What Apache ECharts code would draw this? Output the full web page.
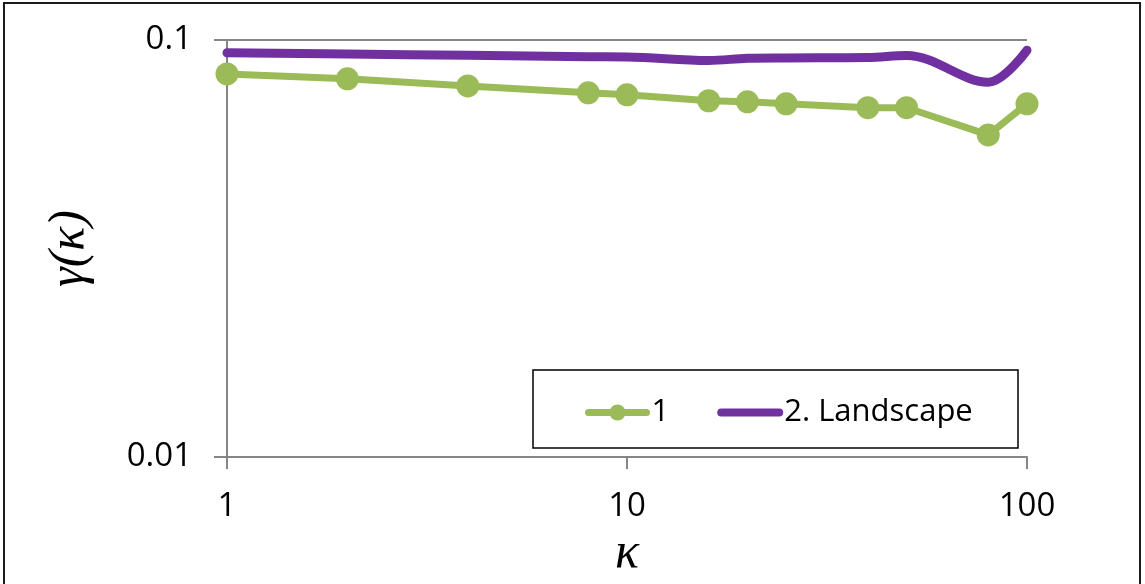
<!DOCTYPE html>
<html>
<head>
<meta charset="utf-8">
<script src="https://cdn.jsdelivr.net/npm/echarts@6/dist/echarts.min.js"></script>
<style>
html,body{margin:0;padding:0;background:#fff;}
#c{width:1145px;height:584px;}
</style>
</head>
<body>
<div id="c"></div>
<script>
// Data
const kappa = [1, 2, 4, 8, 10, 16, 20, 25, 40, 50, 80, 100];
const series1 = [0.0829, 0.0807, 0.0776, 0.0747, 0.0739, 0.0715, 0.0711, 0.0703, 0.0688, 0.0688, 0.0592, 0.0703];
const seriesLandscape = [0.0932, 0.0925, 0.0919, 0.0912, 0.0911, 0.0893, 0.0904, 0.0906, 0.0908, 0.0918, 0.0792, 0.0945];
const seriesNames = ['1', '2. Landscape'];
const xTickLabels = {1: '1', 10: '10', 100: '100'};
const yTickLabels = {0.01: '0.01', 0.1: '0.1'};

const GREEN = '#9BBB59';
const PURPLE = '#7030A0';
const AXIS = '#868686';
const FONT = 'Open Sans';

const chart = echarts.init(document.getElementById('c'), null, {renderer: 'canvas'});

function pairs(xs, ys) { return xs.map((x, i) => [x, ys[i]]); }

chart.setOption({
  animation: false,
  backgroundColor: '#fff',
  grid: {left: 227, right: 118, top: 40, bottom: 126, containLabel: false},
  xAxis: {
    type: 'log', logBase: 10, min: 1, max: 100,
    name: 'κ', nameLocation: 'middle', nameGap: 72,
    nameTextStyle: {fontFamily: 'Liberation Serif', fontStyle: 'italic', fontSize: 50, color: '#000'},
    axisLine: {show: true, lineStyle: {color: AXIS, width: 2}},
    axisTick: {show: true, inside: false, length: 12, lineStyle: {color: AXIS, width: 2}},
    minorTick: {show: false},
    splitLine: {show: false},
    axisLabel: {
      margin: 33, fontFamily: FONT, fontSize: 33, color: '#000',
      formatter: v => xTickLabels[Math.round(v)] !== undefined ? xTickLabels[Math.round(v)] : ''
    }
  },
  yAxis: {
    type: 'log', logBase: 10, min: 0.01, max: 0.1,
    name: 'γ(κ)', nameLocation: 'middle', nameGap: 132, nameRotate: 90,
    nameTextStyle: {fontFamily: 'Liberation Serif', fontStyle: 'italic', fontSize: 50, color: '#000'},
    axisLine: {show: true, lineStyle: {color: AXIS, width: 2}},
    axisTick: {show: true, inside: false, length: 13, lineStyle: {color: AXIS, width: 2}},
    splitLine: {show: true, lineStyle: {color: AXIS, width: 2}},
    axisLabel: {
      margin: 35, fontFamily: FONT, fontSize: 33, color: '#000',
      formatter: v => {
        const k = Math.abs(v - 0.1) < 1e-6 ? 0.1 : (Math.abs(v - 0.01) < 1e-7 ? 0.01 : null);
        return k === null ? '' : yTickLabels[k];
      }
    }
  },
  legend: {
    show: true,
    left: 585, top: 397,
    padding: 0,
    itemGap: 48,
    itemWidth: 58, itemHeight: 20,
    textStyle: {fontFamily: FONT, fontSize: 31, color: '#000'},
    data: [
      {name: seriesNames[0], lineStyle: {color: GREEN, width: 7, cap: 'round'}, itemStyle: {color: GREEN}},
      {name: seriesNames[1], lineStyle: {color: PURPLE, width: 8, cap: 'round'}, itemStyle: {color: 'rgba(0,0,0,0)', opacity: 0}}
    ]
  },
  graphic: [
    {type: 'rect', shape: {x: 4, y: 3, width: 1136, height: 590}, style: {fill: 'none', stroke: '#1a1a1a', lineWidth: 2}, silent: true, z: 100},
    {type: 'rect', shape: {x: 533, y: 370, width: 485, height: 78}, style: {fill: '#fff', stroke: '#000', lineWidth: 1.5}, silent: true, z: 1}
  ],
  series: [
    {
      name: seriesNames[0], type: 'line',
      data: pairs(kappa, series1),
      symbol: 'circle', symbolSize: 23,
      itemStyle: {color: GREEN},
      lineStyle: {color: GREEN, width: 7, cap: 'round', join: 'round'},
      smooth: false, z: 3
    },
    {
      name: seriesNames[1], type: 'line',
      data: pairs(kappa, seriesLandscape),
      symbol: 'none', showSymbol: false,
      itemStyle: {color: PURPLE},
      lineStyle: {color: PURPLE, width: 9, cap: 'round', join: 'round'},
      smooth: 0.35, z: 3
    }
  ]
});
</script>
</body>
</html>
